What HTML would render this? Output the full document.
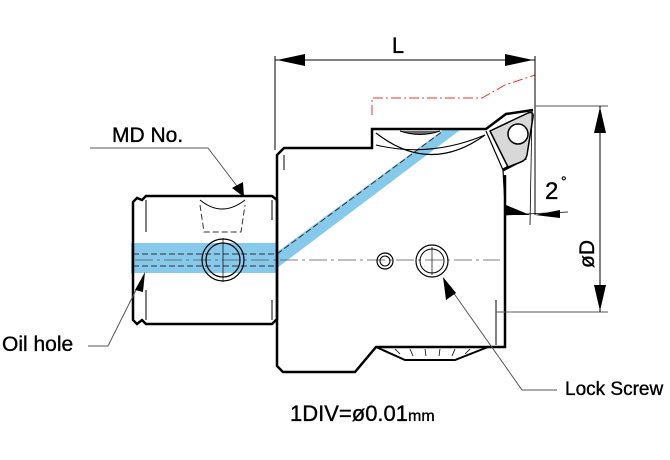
<!DOCTYPE html>
<html><head><meta charset="utf-8"><style>
html,body{margin:0;padding:0;background:#fff;}
svg{display:block;}
text{font-family:"Liberation Sans",sans-serif;fill:#000;stroke:#000;stroke-width:0.35;}
</style></head><body>
<svg width="670" height="460" viewBox="0 0 670 460" xmlns="http://www.w3.org/2000/svg">
<rect x="131" y="243" width="147" height="30" fill="#86c9ea"/>
<polygon points="277,252 277,268 460,130 443,130" fill="#86c9ea"/>
<g stroke="#333" stroke-width="1" stroke-dasharray="6,3" fill="none">
<line x1="133" y1="254" x2="277" y2="254"/>
<line x1="133" y1="266" x2="277" y2="266"/>
<line x1="277" y1="254" x2="443" y2="131"/>
<path d="M200,205 L204,232 L241,232 L245,205"/>
</g>
<line x1="135" y1="260" x2="500" y2="260" stroke="#555" stroke-width="0.8" stroke-dasharray="18,4,3,4"/>
<path d="M137,198 L133,202 L133,320 L137,324 L142,320 L146,324 L272,324 L277,319 L277,200 L272,196 L146,196 L142,200 Z" fill="none" stroke="#000" stroke-width="2.5"/>
<line x1="146" y1="200" x2="146" y2="232" stroke="#000" stroke-width="1"/>
<line x1="146" y1="290" x2="146" y2="320" stroke="#000" stroke-width="1"/>
<line x1="272" y1="200" x2="272" y2="220" stroke="#000" stroke-width="1"/>
<line x1="272" y1="300" x2="272" y2="320" stroke="#000" stroke-width="1"/>
<path d="M200,200 Q222,218 245,200" fill="none" stroke="#000" stroke-width="1"/>
<circle cx="223" cy="260" r="21" fill="none" stroke="#000" stroke-width="1.2"/>
<circle cx="223" cy="260" r="17" fill="none" stroke="#000" stroke-width="1.2"/>
<line x1="223" y1="238" x2="223" y2="282" stroke="#000" stroke-width="0.7"/>
<path d="M505,205 L505,347 L376,347 L355,372 L283,372 L277,366 L277,155 L284,148 L372,148 L372,129 L486,129 L506,114 L533,110" fill="none" stroke="#000" stroke-width="2.5" stroke-linejoin="miter"/>
<path d="M486,131 L503,170 L505,205" fill="none" stroke="#000" stroke-width="1.2"/>
<line x1="503" y1="170" x2="526" y2="158" stroke="#000" stroke-width="3"/>
<line x1="505" y1="175" x2="505" y2="205" stroke="#000" stroke-width="2.5"/>
<line x1="284" y1="155" x2="284" y2="170" stroke="#000" stroke-width="1"/>
<line x1="496" y1="300" x2="496" y2="345" stroke="#000" stroke-width="1"/>
<path d="M376,133 Q430,175 485,135" fill="none" stroke="#000" stroke-width="1.2"/>
<path d="M376,145 Q430,158 485,135" fill="none" stroke="#000" stroke-width="1"/>
<path d="M400,131 Q420,138 440,131" fill="#666" stroke="#000" stroke-width="1"/>
<path d="M376,347 L405,360 L455,360 L488,347" fill="none" stroke="#000" stroke-width="2"/>
<g stroke="#000" stroke-width="0.8">
<line x1="395" y1="349" x2="400" y2="354"/><line x1="410" y1="349" x2="413" y2="356"/><line x1="425" y1="349" x2="426" y2="356"/><line x1="440" y1="349" x2="439" y2="356"/><line x1="455" y1="349" x2="452" y2="356"/><line x1="470" y1="349" x2="465" y2="354"/>
</g>
<circle cx="385" cy="261" r="8" fill="none" stroke="#000" stroke-width="1.2"/>
<circle cx="385" cy="261" r="5" fill="none" stroke="#000" stroke-width="1"/>
<circle cx="432" cy="261" r="16" fill="none" stroke="#000" stroke-width="1.2"/>
<circle cx="432" cy="261" r="12" fill="none" stroke="#000" stroke-width="1"/>
<line x1="432" y1="247" x2="432" y2="275" stroke="#000" stroke-width="0.7"/>
<path d="M490,131 L528,113 Q534,111 533,117 L527,155 Q526,160 521,162 L508,167 Z" fill="#d8d8d8" stroke="#000" stroke-width="1.5" stroke-linejoin="round"/>
<circle cx="518" cy="134" r="10" fill="#fff" stroke="#000" stroke-width="1.5"/>
<polygon points="506,205 506,215 530,215" fill="#000"/>
<polygon points="535,215 560,210 560,218" fill="#000"/>
<line x1="506" y1="215" x2="568" y2="212" stroke="#000" stroke-width="0.8"/>
<line x1="532" y1="110" x2="530" y2="225" stroke="#000" stroke-width="0.8"/>
<text x="545" y="199" font-size="24">2</text><text x="561" y="186" font-size="14">°</text>
<path d="M372,115 L372,98 L482,98 L505,85 L535,75" fill="none" stroke="#e33" stroke-width="1" stroke-dasharray="10,3,2,3"/>
<line x1="275" y1="56" x2="275" y2="150" stroke="#000" stroke-width="1"/>
<line x1="535" y1="56" x2="535" y2="215" stroke="#000" stroke-width="1"/>
<line x1="275" y1="60" x2="535" y2="60" stroke="#000" stroke-width="1"/>
<polygon points="277,60 305,54 305,66" fill="#000"/>
<polygon points="533,60 505,54 505,66" fill="#000"/>
<text x="398" y="53" font-size="22" text-anchor="middle">L</text>
<line x1="535" y1="106" x2="608" y2="106" stroke="#555" stroke-width="1"/>
<line x1="496" y1="312" x2="608" y2="312" stroke="#555" stroke-width="1"/>
<line x1="600" y1="106" x2="600" y2="312" stroke="#000" stroke-width="1"/>
<polygon points="600,107 594,133 606,133" fill="#000"/>
<polygon points="600,311 594,285 606,285" fill="#000"/>
<text x="0" y="0" font-size="21" transform="translate(594,268) rotate(-90)">øD</text>
<text x="112" y="142" font-size="21">MD No.</text>
<polyline points="90,148 208,148 240,190" fill="none" stroke="#555" stroke-width="1"/>
<polygon points="244,197 232,188 243,182" fill="#000"/>
<text x="2" y="351" font-size="21">Oil hole</text>
<polyline points="88,346 108,346 140,282" fill="none" stroke="#555" stroke-width="1"/>
<polygon points="145,272 135,290 143,292" fill="#000"/>
<text x="565" y="395" font-size="19">Lock Screw</text>
<polyline points="557,390 522,390 448,285" fill="none" stroke="#555" stroke-width="1"/>
<polygon points="443,277 446,300 456,293" fill="#000"/>
<text x="290" y="421" font-size="22">1DIV=ø0.01<tspan font-size="16">mm</tspan></text>
</svg>
</body></html>
